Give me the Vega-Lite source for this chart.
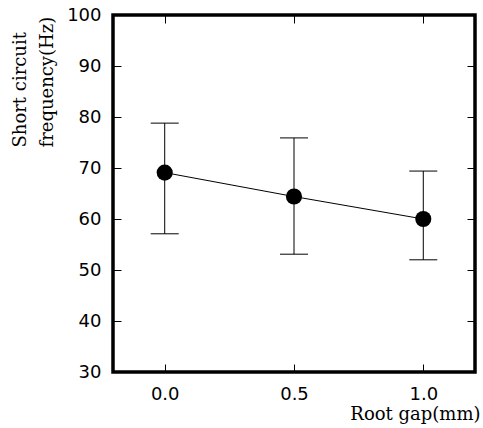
{
  "$schema": "https://vega.github.io/schema/vega-lite/v6.json",
  "width": 362,
  "height": 357,
  "autosize": {"type": "none"},
  "padding": {"left": 113, "top": 15, "right": 8, "bottom": 56},
  "background": "white",
  "data": {
    "values": [
      {"gap": 0.0, "mean": 69.1, "lo": 57.1, "hi": 78.8},
      {"gap": 0.5, "mean": 64.4, "lo": 53.1, "hi": 75.9},
      {"gap": 1.0, "mean": 60.0, "lo": 52.0, "hi": 69.4}
    ]
  },
  "config": {
    "view": {"stroke": "black", "strokeWidth": 3.5},
    "axis": {
      "domain": false,
      "grid": false,
      "tickColor": "black",
      "tickWidth": 1,
      "tickSize": -8,
      "labelFont": "DejaVu Sans",
      "labelFontSize": 18,
      "labelColor": "black",
      "titleFont": "DejaVu Serif",
      "titleFontSize": 18,
      "titleFontWeight": "normal",
      "titleColor": "black"
    }
  },
  "layer": [
    {
      "mark": {"type": "rule", "color": "black", "strokeWidth": 1},
      "encoding": {
        "x": {
          "field": "gap", "type": "quantitative",
          "scale": {"domain": [-0.2, 1.2], "nice": false, "zero": false},
          "axis": {
            "orient": "bottom", "values": [0, 0.5, 1], "format": ".1f",
            "labelPadding": 21,
            "title": "Root gap(mm)",
            "titleAlign": "right", "titleBaseline": "alphabetic",
            "titleX": 367, "titleY": 47
          }
        },
        "y": {
          "field": "lo", "type": "quantitative",
          "scale": {"domain": [30, 100], "nice": false, "zero": false},
          "axis": {
            "orient": "left", "values": [30, 40, 50, 60, 70, 80, 90, 100],
            "labelPadding": 20,
            "title": ["Short circuit", "frequency(Hz)"],
            "titleAngle": 270, "titleAlign": "left", "titleBaseline": "alphabetic",
            "titleX": -88, "titleY": 132, "titleLineHeight": 27
          }
        },
        "y2": {"field": "hi"}
      }
    },
    {
      "mark": {"type": "tick", "orient": "horizontal", "size": 28, "thickness": 1, "color": "black", "opacity": 1},
      "encoding": {
        "x": {
          "field": "gap", "type": "quantitative",
          "axis": {"orient": "top", "values": [0, 0.5, 1], "labels": false, "title": null}
        },
        "y": {
          "field": "lo", "type": "quantitative",
          "axis": {"orient": "right", "values": [40, 50, 60, 70, 80, 90], "labels": false, "title": null}
        }
      }
    },
    {
      "mark": {"type": "tick", "orient": "horizontal", "size": 28, "thickness": 1, "color": "black", "opacity": 1},
      "encoding": {
        "x": {"field": "gap", "type": "quantitative", "axis": null},
        "y": {"field": "hi", "type": "quantitative", "axis": null}
      }
    },
    {
      "mark": {"type": "line", "color": "black", "strokeWidth": 1},
      "encoding": {
        "x": {"field": "gap", "type": "quantitative", "axis": null},
        "y": {"field": "mean", "type": "quantitative", "axis": null}
      }
    },
    {
      "mark": {"type": "point", "filled": true, "color": "black", "size": 260, "opacity": 1},
      "encoding": {
        "x": {"field": "gap", "type": "quantitative", "axis": null},
        "y": {"field": "mean", "type": "quantitative", "axis": null}
      }
    }
  ],
  "resolve": {"axis": {"x": "independent", "y": "independent"}}
}
